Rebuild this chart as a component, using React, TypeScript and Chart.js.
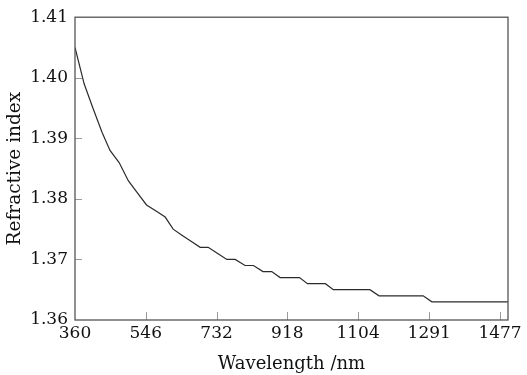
import React, { useEffect, useRef } from "react";
import { Chart, registerables } from "chart.js";

Chart.register(...registerables);

const wavelengths = [
  360, 384, 407, 431, 452, 476, 500, 524, 548, 573, 597, 618, 641, 665, 689,
  710, 735, 759, 781, 807, 829, 854, 877, 899, 950, 971, 1018, 1039, 1135,
  1159, 1275, 1298, 1498,
];
const refractiveIndex = [
  1.405, 1.399, 1.395, 1.391, 1.388, 1.386, 1.383, 1.381, 1.379, 1.378, 1.377,
  1.375, 1.374, 1.373, 1.372, 1.372, 1.371, 1.37, 1.37, 1.369, 1.369, 1.368,
  1.368, 1.367, 1.367, 1.366, 1.366, 1.365, 1.365, 1.364, 1.364, 1.363, 1.363,
];
const xTicks = [360, 546, 732, 918, 1104, 1291, 1477];
const yTicks = [1.36, 1.37, 1.38, 1.39, 1.4, 1.41];

const FONT = "'DejaVu Serif', 'Liberation Serif', serif";

const frameTicks = {
  id: "frameTicks",
  afterDraw(chart: any) {
    const { ctx, chartArea } = chart;
    const { left, right, top, bottom } = chartArea;
    const xs = chart.scales.x;
    const ys = chart.scales.y;
    ctx.save();
    ctx.strokeStyle = "#9a9a9a";
    ctx.lineWidth = 1;
    ctx.beginPath();
    xTicks.forEach((v) => {
      const px = Math.round(xs.getPixelForValue(v)) + 0.5;
      if (px <= left + 1) return;
      ctx.moveTo(px, bottom);
      ctx.lineTo(px, bottom - 8);
    });
    yTicks.forEach((v) => {
      const py = Math.round(ys.getPixelForValue(v)) + 0.5;
      if (py >= bottom - 1 || py <= top + 1) return;
      ctx.moveTo(left, py);
      ctx.lineTo(left + 7, py);
    });
    ctx.stroke();
    ctx.strokeStyle = "#555";
    ctx.lineWidth = 1.3;
    ctx.strokeRect(left, top, right - left, bottom - top);
    ctx.restore();
  },
};

export default function App() {
  const ref = useRef<HTMLCanvasElement | null>(null);
  useEffect(() => {
    document.body.style.margin = "0";
    const canvas = ref.current;
    if (!canvas) return;
    const data = wavelengths.map((w, i) => ({ x: w, y: refractiveIndex[i] }));
    const chart = new Chart(canvas, {
      type: "line",
      data: {
        datasets: [
          {
            data,
            borderColor: "#2b2b2b",
            borderWidth: 1.2,
            pointRadius: 0,
            tension: 0,
            fill: false,
          },
        ],
      },
      options: {
        responsive: false,
        animation: false,
        layout: { padding: { top: 15, right: 19, left: 0, bottom: 0 } },
        plugins: { legend: { display: false }, tooltip: { enabled: false } },
        scales: {
          x: {
            type: "linear",
            min: 360,
            max: 1498,
            afterBuildTicks: (scale: any) => {
              scale.ticks = xTicks.map((v) => ({ value: v }));
            },
            afterFit: (scale: any) => {
              scale.height = 55;
            },
            grid: { display: false, drawTicks: false },
            border: { display: false },
            ticks: {
              autoSkip: false,
              maxRotation: 0,
              padding: 3,
              color: "#111",
              font: { family: FONT, size: 17 },
              callback: (v: any) => String(v),
            },
            title: {
              display: true,
              text: "Wavelength /nm",
              color: "#111",
              font: { family: FONT, size: 18 },
              padding: { top: 0, bottom: 0 },
            },
          },
          y: {
            type: "linear",
            min: 1.36,
            max: 1.41,
            afterBuildTicks: (scale: any) => {
              scale.ticks = yTicks.map((v) => ({ value: v }));
            },
            afterFit: (scale: any) => {
              scale.width = 75;
            },
            grid: { display: false, drawTicks: false },
            border: { display: false },
            ticks: {
              autoSkip: false,
              padding: 7,
              color: "#111",
              font: { family: FONT, size: 17 },
              callback: (v: any) => Number(v).toFixed(2),
            },
            title: {
              display: true,
              text: "Refractive index",
              color: "#111",
              font: { family: FONT, size: 18.5 },
              padding: { top: 4, bottom: 0 },
            },
          },
        },
      },
      plugins: [frameTicks],
    });
    return () => chart.destroy();
  }, []);
  return (
    <div style={{ width: 527, height: 375, background: "#fff" }}>
      <canvas ref={ref} width={527} height={375} />
    </div>
  );
}
